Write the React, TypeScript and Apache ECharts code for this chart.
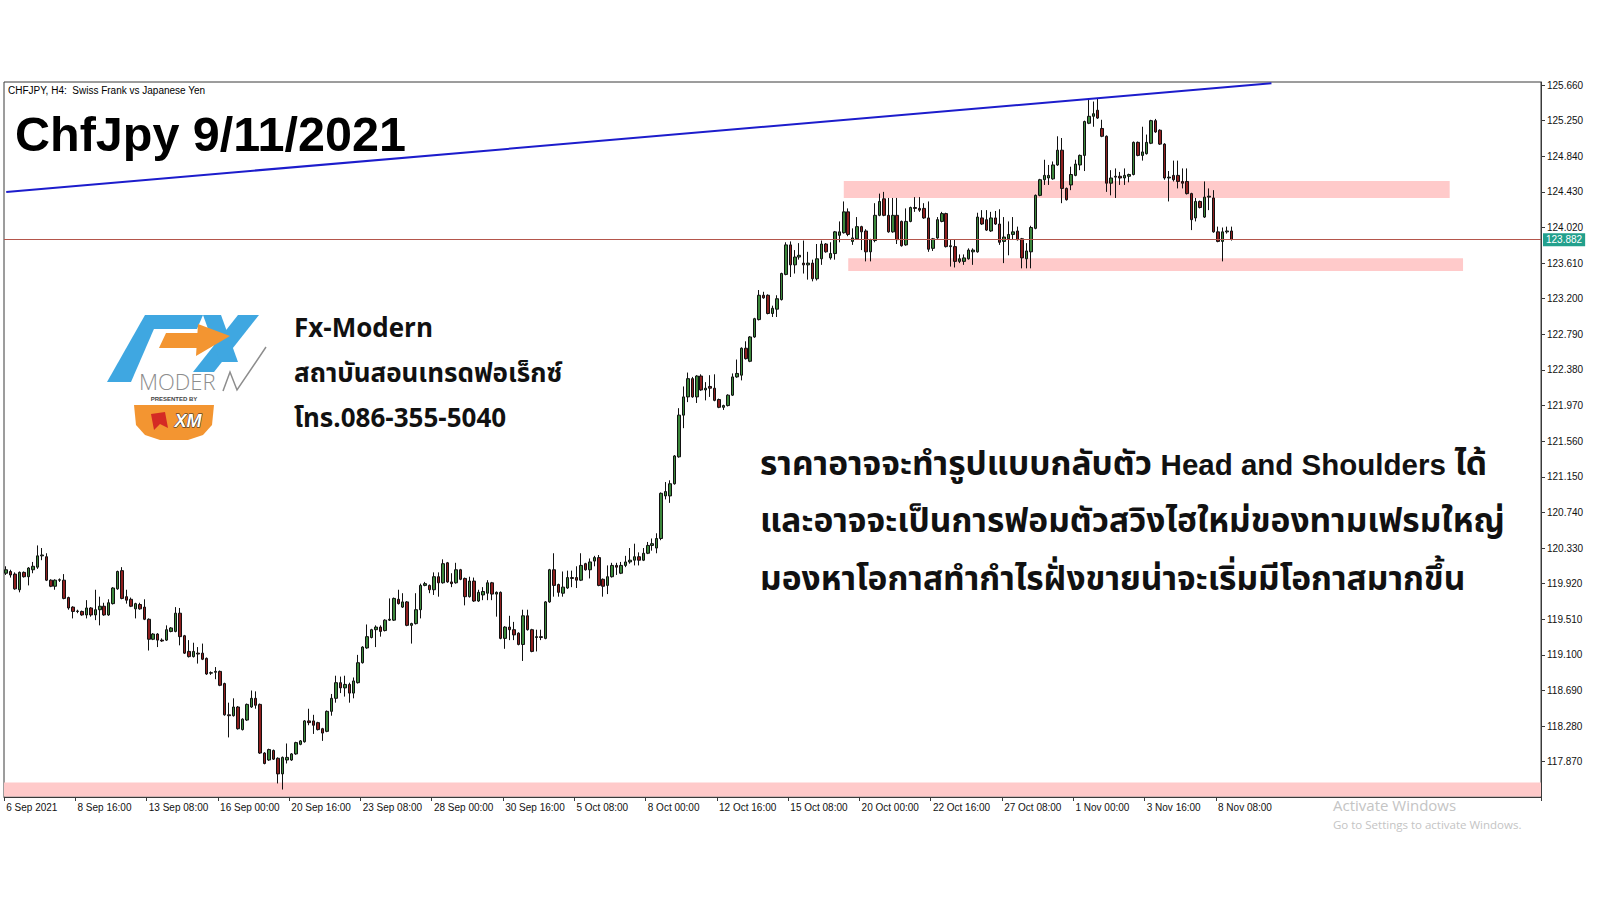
import React, { useEffect, useRef } from "react";
import * as echarts from "echarts";

// ---------- data ----------
const dateLabels = [
  "6 Sep 2021", "8 Sep 16:00", "13 Sep 08:00", "16 Sep 00:00", "20 Sep 16:00",
  "23 Sep 08:00", "28 Sep 00:00", "30 Sep 16:00", "5 Oct 08:00", "8 Oct 00:00",
  "12 Oct 16:00", "15 Oct 08:00", "20 Oct 00:00", "22 Oct 16:00", "27 Oct 08:00",
  "1 Nov 00:00", "3 Nov 16:00", "8 Nov 08:00",
];
const barsPerLabel = 16;
const totalSlots = 345;

const priceTicks = [
  117.87, 118.28, 118.69, 119.1, 119.51, 119.92, 120.33, 120.74, 121.15, 121.56,
  121.97, 122.38, 122.79, 123.2, 123.61, 124.02, 124.43, 124.84, 125.25, 125.66,
];
const priceMin = 117.464;
const priceMax = 125.695;

const opens = [
  120.04, 120.06, 120.03, 119.85, 120.05, 120.0, 120.08, 120.11, 120.24, 120.23,
  119.96, 119.89, 119.96, 119.96, 119.76, 119.65, 119.6, 119.6, 119.56, 119.64,
  119.56, 119.62, 119.66, 119.56, 119.69, 119.86, 120.07, 119.77, 119.74, 119.63,
  119.68, 119.65, 119.51, 119.28, 119.34, 119.27, 119.27, 119.37, 119.37, 119.58,
  119.32, 119.14, 119.08, 119.12, 119.12, 119.06, 118.89, 118.9, 118.91, 118.77,
  118.41, 118.4, 118.5, 118.24, 118.35, 118.5, 118.6, 118.53, 117.97, 117.89,
  118.0, 117.91, 117.73, 117.89, 117.89, 117.96, 118.07, 118.1, 118.34, 118.34,
  118.32, 118.25, 118.22, 118.45, 118.6, 118.78, 118.72, 118.76, 118.66, 118.78,
  119.01, 119.18, 119.3, 119.39, 119.42, 119.38, 119.5, 119.5, 119.74, 119.65,
  119.71, 119.44, 119.46, 119.62, 119.9, 119.9, 119.85, 120.0, 119.93, 120.16,
  119.94, 119.93, 120.08, 119.98, 119.77, 119.95, 119.72, 119.79, 119.81, 119.93,
  119.8, 119.82, 119.29, 119.42, 119.39, 119.35, 119.22, 119.55, 119.39, 119.3,
  119.31, 119.29, 119.71, 120.08, 119.91, 119.81, 119.87, 119.99, 119.99, 119.96,
  120.15, 120.08, 120.18, 120.22, 119.97, 119.9, 120.0, 120.13, 120.04, 120.13,
  120.17, 120.19, 120.23, 120.19, 120.27, 120.36, 120.33, 120.44, 120.93, 120.93,
  121.07, 121.38, 121.86, 122.07, 122.28, 122.07, 122.31, 122.15, 122.19, 122.17,
  122.04, 121.95, 121.97, 122.09, 122.3, 122.32, 122.63, 122.48, 122.76, 122.96,
  123.24, 123.24, 123.03, 123.08, 123.19, 123.48, 123.82, 123.59, 123.68, 123.61,
  123.59, 123.61, 123.43, 123.66, 123.83, 123.67, 123.72, 123.93, 123.96, 124.2,
  123.86, 123.89, 124.03, 123.98, 123.74, 123.87, 124.16, 124.35, 124.16, 123.97,
  124.16, 124.09, 123.82, 124.09, 124.25, 124.24, 124.24, 124.13, 123.78, 123.9,
  124.09, 124.18, 123.8, 123.8, 123.63, 123.63, 123.66, 123.74, 123.74, 124.13,
  124.11, 123.98, 124.13, 124.06, 123.86, 123.89, 123.94, 123.98, 123.89, 123.66,
  123.74, 124.01, 124.39, 124.57, 124.59, 124.58, 124.74, 124.91, 124.47, 124.51,
  124.62, 124.74, 124.85, 125.22, 125.3, 125.37, 125.16, 125.07, 124.53, 124.6,
  124.61, 124.59, 124.61, 124.63, 125.0, 124.85, 124.87, 124.99, 125.25, 125.14,
  124.98, 124.59, 124.62, 124.62, 124.55, 124.55, 124.41, 124.13, 124.32, 124.14,
  124.37, 124.36, 123.97, 123.86, 123.97, 123.98,
];
const closes = [
  120.08, 120.02, 119.86, 120.05, 120.0, 120.1, 120.12, 120.24, 120.25, 119.96,
  119.89, 119.96, 119.965, 119.75, 119.64, 119.6, 119.605, 119.56, 119.64, 119.56,
  119.62, 119.66, 119.56, 119.7, 119.87, 120.06, 119.75, 119.73, 119.66, 119.69,
  119.63, 119.51, 119.28, 119.34, 119.27, 119.26, 119.39, 119.41, 119.58, 119.31,
  119.12, 119.08, 119.14, 119.11, 119.05, 118.88, 118.895, 118.91, 118.75, 118.41,
  118.4, 118.5, 118.25, 118.36, 118.53, 118.6, 118.52, 117.97, 117.85, 118.01,
  117.9, 117.73, 117.92, 117.92, 117.96, 118.09, 118.11, 118.34, 118.32, 118.29,
  118.24, 118.2, 118.45, 118.6, 118.78, 118.72, 118.76, 118.66, 118.8, 119.01,
  119.19, 119.31, 119.39, 119.42, 119.37, 119.5, 119.51, 119.75, 119.69, 119.71,
  119.44, 119.46, 119.62, 119.9, 119.92, 119.85, 120.0, 119.93, 120.15, 119.94,
  119.92, 120.08, 119.97, 119.77, 119.95, 119.72, 119.82, 119.83, 119.93, 119.8,
  119.82, 119.29, 119.42, 119.39, 119.33, 119.22, 119.55, 119.39, 119.14, 119.31,
  119.3, 119.71, 120.08, 119.9, 119.82, 119.88, 119.99, 119.98, 119.96, 120.13,
  120.08, 120.17, 120.22, 119.9, 119.89, 120.0, 120.13, 120.11, 120.13, 120.17,
  120.19, 120.23, 120.19, 120.27, 120.36, 120.38, 120.44, 120.96, 120.98, 121.07,
  121.39, 121.86, 122.07, 122.28, 122.07, 122.31, 122.15, 122.17, 122.17, 122.03,
  121.95, 121.97, 122.09, 122.3, 122.34, 122.63, 122.51, 122.76, 122.97, 123.24,
  123.21, 123.03, 123.09, 123.2, 123.49, 123.82, 123.59, 123.68, 123.7, 123.59,
  123.61, 123.43, 123.66, 123.83, 123.74, 123.72, 123.97, 123.97, 124.2, 123.94,
  123.9, 124.03, 123.97, 123.74, 123.88, 124.16, 124.32, 124.16, 123.97, 124.16,
  123.88, 123.81, 124.09, 124.25, 124.24, 124.22, 124.13, 123.77, 123.89, 124.11,
  124.18, 123.8, 123.81, 123.63, 123.66, 123.67, 123.76, 123.76, 124.14, 124.06,
  123.99, 124.13, 124.06, 123.85, 123.91, 123.94, 123.97, 123.88, 123.67, 123.75,
  124.02, 124.39, 124.57, 124.62, 124.62, 124.74, 124.91, 124.47, 124.34, 124.63,
  124.75, 124.85, 125.24, 125.3, 125.33, 125.28, 125.07, 124.53, 124.59, 124.61,
  124.59, 124.62, 124.63, 125.0, 124.85, 124.89, 125.0, 125.25, 125.12, 124.98,
  124.59, 124.6, 124.57, 124.55, 124.53, 124.41, 124.11, 124.32, 124.25, 124.37,
  124.38, 123.97, 123.86, 123.97, 123.98, 123.882,
];
const lows = [
  120.02, 119.99, 119.85, 119.82, 119.99, 119.9, 120.04, 120.09, 120.19, 119.95,
  119.88, 119.85, 119.94, 119.74, 119.62, 119.52, 119.58, 119.55, 119.52, 119.54,
  119.5, 119.44, 119.55, 119.55, 119.68, 119.85, 119.74, 119.69, 119.65, 119.52,
  119.62, 119.5, 119.15, 119.27, 119.19, 119.25, 119.26, 119.36, 119.36, 119.21,
  119.11, 119.07, 119.07, 119.0, 119.04, 118.87, 118.87, 118.82, 118.74, 118.4,
  118.15, 118.39, 118.24, 118.23, 118.34, 118.49, 118.48, 117.96, 117.84, 117.88,
  117.89, 117.62, 117.55, 117.85, 117.88, 117.95, 118.06, 118.09, 118.29, 118.19,
  118.23, 118.11, 118.21, 118.4, 118.55, 118.66, 118.62, 118.55, 118.6, 118.77,
  119.0, 119.17, 119.29, 119.19, 119.31, 119.37, 119.49, 119.49, 119.68, 119.64,
  119.43, 119.23, 119.45, 119.52, 119.89, 119.81, 119.79, 119.77, 119.92, 119.93,
  119.88, 119.92, 119.96, 119.67, 119.76, 119.71, 119.71, 119.73, 119.73, 119.73,
  119.54, 119.28, 119.17, 119.27, 119.27, 119.21, 119.03, 119.38, 119.13, 119.14,
  119.27, 119.28, 119.7, 119.77, 119.77, 119.77, 119.86, 119.88, 119.87, 119.95,
  120.07, 119.98, 120.12, 119.89, 119.77, 119.8, 119.99, 120.02, 120.03, 120.11,
  120.15, 120.13, 120.13, 120.18, 120.26, 120.3, 120.27, 120.42, 120.89, 120.85,
  121.06, 121.37, 121.71, 122.01, 122.06, 122.0, 122.14, 122.03, 122.07, 122.02,
  121.94, 121.92, 121.96, 122.08, 122.29, 122.26, 122.5, 122.47, 122.75, 122.95,
  123.2, 123.02, 122.99, 122.99, 123.18, 123.47, 123.45, 123.49, 123.65, 123.49,
  123.42, 123.4, 123.41, 123.59, 123.73, 123.65, 123.65, 123.85, 123.95, 123.92,
  123.82, 123.88, 123.76, 123.63, 123.63, 123.85, 124.15, 124.15, 123.96, 123.96,
  123.83, 123.8, 123.81, 124.08, 124.2, 124.2, 124.12, 123.74, 123.75, 123.89,
  124.08, 123.79, 123.57, 123.56, 123.61, 123.59, 123.65, 123.59, 123.73, 124.05,
  123.98, 123.97, 124.05, 123.82, 123.61, 123.7, 123.88, 123.87, 123.55, 123.55,
  123.55, 124.0, 124.38, 124.51, 124.51, 124.57, 124.73, 124.3, 124.33, 124.45,
  124.61, 124.68, 124.67, 125.21, 125.18, 125.27, 125.06, 124.43, 124.39, 124.36,
  124.51, 124.51, 124.54, 124.62, 124.84, 124.79, 124.86, 124.98, 125.11, 124.97,
  124.57, 124.32, 124.55, 124.47, 124.47, 124.4, 123.99, 124.09, 124.24, 124.13,
  124.22, 123.96, 123.85, 123.63, 123.95, 123.87,
];
const highs = [
  120.12, 120.08, 120.05, 120.06, 120.06, 120.11, 120.17, 120.36, 120.33, 120.27,
  119.97, 119.97, 119.98, 120.03, 119.77, 119.66, 119.62, 119.61, 119.73, 119.65,
  119.85, 119.77, 119.7, 119.74, 119.88, 120.07, 120.11, 119.85, 119.76, 119.7,
  119.7, 119.74, 119.52, 119.35, 119.35, 119.29, 119.44, 119.42, 119.65, 119.64,
  119.33, 119.27, 119.24, 119.19, 119.23, 119.07, 118.91, 118.96, 118.92, 118.78,
  118.55, 118.6, 118.51, 118.37, 118.54, 118.69, 118.68, 118.54, 117.98, 118.02,
  118.01, 117.92, 117.93, 118.08, 117.97, 118.1, 118.12, 118.35, 118.48, 118.41,
  118.33, 118.26, 118.46, 118.65, 118.86, 118.85, 118.86, 118.78, 118.84, 119.1,
  119.2, 119.45, 119.4, 119.44, 119.44, 119.51, 119.75, 119.76, 119.85, 119.81,
  119.72, 119.47, 119.81, 119.92, 119.94, 119.91, 120.05, 120.05, 120.2, 120.17,
  120.04, 120.16, 120.09, 119.99, 120.0, 119.99, 119.85, 119.88, 119.96, 119.94,
  119.83, 119.83, 119.43, 119.55, 119.48, 119.36, 119.62, 119.62, 119.4, 119.39,
  119.39, 119.72, 120.09, 120.27, 119.92, 120.06, 120.07, 120.07, 120.12, 120.27,
  120.16, 120.21, 120.24, 120.25, 119.98, 120.13, 120.16, 120.16, 120.17, 120.24,
  120.33, 120.38, 120.28, 120.33, 120.4, 120.44, 120.5, 120.97, 121.09, 121.11,
  121.4, 121.94, 122.19, 122.35, 122.3, 122.32, 122.33, 122.24, 122.32, 122.33,
  122.05, 121.98, 122.1, 122.34, 122.5, 122.64, 122.71, 122.77, 122.98, 123.3,
  123.28, 123.25, 123.12, 123.24, 123.5, 123.85, 123.86, 123.76, 123.84, 123.87,
  123.74, 123.65, 123.83, 123.87, 123.84, 123.85, 123.98, 124.09, 124.32, 124.24,
  124.01, 124.14, 124.04, 124.0, 123.89, 124.3, 124.41, 124.43, 124.36, 124.36,
  124.36, 124.1, 124.24, 124.26, 124.37, 124.37, 124.3, 124.32, 123.9, 124.14,
  124.2, 124.19, 123.88, 123.88, 123.71, 123.71, 123.78, 123.78, 124.19, 124.22,
  124.22, 124.2, 124.21, 124.23, 124.14, 124.09, 124.14, 124.03, 123.9, 123.84,
  124.04, 124.4, 124.58, 124.8, 124.74, 124.78, 125.07, 125.05, 124.48, 124.72,
  124.8, 124.86, 125.25, 125.51, 125.47, 125.51, 125.26, 125.08, 124.68, 124.7,
  124.66, 124.7, 124.64, 125.01, 125.01, 125.18, 125.09, 125.26, 125.27, 125.15,
  124.99, 124.67, 124.79, 124.79, 124.7, 124.7, 124.42, 124.36, 124.33, 124.55,
  124.47, 124.45, 124.03, 124.02, 124.03, 124.03,
];

const currentPrice = 123.882;
const trendLine = [
  [0, 124.43],
  [284, 125.68],
];
// zones: [fromBar, toBar, low, high]
const resistanceZone = [188, 324, 124.36, 124.555];
const supportZone = [189, 327, 123.52, 123.665];
const bottomZone = [117.47, 117.63];

const headerText = "CHFJPY, H4:  Swiss Frank vs Japanese Yen";
const titleText = "ChfJpy 9/11/2021";
const brandLines = ["Fx-Modern", "สถาบันสอนเทรดฟอเร็กซ์", "โทร.086-355-5040"];
const noteLine1 = ["ราคาอาจจะทำรูปแบบกลับตัว ", "Head and Shoulders", " ได้"];
const noteLine2 = "และอาจจะเป็นการฟอมตัวสวิงไฮใหม่ของทามเฟรมใหญ่";
const noteLine3 = "มองหาโอกาสทำกำไรฝั่งขายน่าจะเริ่มมีโอกาสมากขึ้น";

const THAI_FONT = "'Noto Sans Thai','Noto Sans Thai UI','Tahoma','Liberation Sans','DejaVu Sans',sans-serif";
const LATIN_FONT = "'Liberation Sans', Arial, sans-serif";

export default function App() {
  const ref = useRef<HTMLDivElement>(null);

  useEffect(() => {
    if (!ref.current) return;
    const chart = echarts.init(ref.current, undefined, { renderer: "svg" });
    const categories = Array.from({ length: totalSlots }, (_, i) => String(i));
    const candleData = opens.map((o, i) => [o, closes[i], lows[i], highs[i]]);
    const isLabelSlot = (i: number) =>
      i % barsPerLabel === 0 && i / barsPerLabel < dateLabels.length;

    const blue = "#3fa7e1";
    const orange = "#f39531";

    const option: any = {
      animation: false,
      backgroundColor: "#ffffff",
      grid: {
        left: 4,
        right: 59,
        top: 82,
        bottom: 103,
        show: true,
        borderColor: "#3a3a3a",
        borderWidth: 1,
      },
      xAxis: {
        type: "category",
        data: categories,
        boundaryGap: true,
        axisLine: { show: true, lineStyle: { color: "#3a3a3a", width: 1 } },
        axisTick: {
          show: true,
          length: 4,
          interval: (i: number) => isLabelSlot(i),
          lineStyle: { color: "#3a3a3a" },
        },
        axisLabel: {
          interval: (i: number) => isLabelSlot(i),
          formatter: (_v: string, i: number) => dateLabels[i / barsPerLabel] ?? "",
          align: "left",
          margin: 5,
          fontSize: 10,
          fontFamily: LATIN_FONT,
          color: "#111",
        },
        splitLine: { show: false },
      },
      yAxis: {
        type: "value",
        position: "right",
        min: priceMin,
        max: priceMax,
        axisLine: { show: true, lineStyle: { color: "#3a3a3a", width: 1 } },
        axisTick: { show: true, length: 4, customValues: priceTicks, lineStyle: { color: "#3a3a3a" } },
        axisLabel: {
          customValues: priceTicks,
          formatter: (v: number) => v.toFixed(3),
          margin: 6,
          fontSize: 10,
          fontFamily: LATIN_FONT,
          color: "#111",
        },
        splitLine: { show: false },
      },
      series: [
        {
          type: "line",
          name: "zones",
          data: [],
          z: 1,
          silent: true,
          markArea: {
            silent: true,
            itemStyle: { color: "#ffcaca", borderWidth: 0 },
            data: [
              [
                { xAxis: resistanceZone[0], yAxis: resistanceZone[3] },
                { xAxis: resistanceZone[1], yAxis: resistanceZone[2] },
              ],
              [
                { xAxis: supportZone[0], yAxis: supportZone[3] },
                { xAxis: supportZone[1], yAxis: supportZone[2] },
              ],
              [{ yAxis: bottomZone[1] }, { yAxis: bottomZone[0] }],
            ],
          },
        },
        {
          type: "candlestick",
          name: "CHFJPY",
          data: candleData,
          z: 3,
          barWidth: 3,
          itemStyle: {
            color: "#3b873b",
            color0: "#8e1e1e",
            borderColor: "#111",
            borderColor0: "#111",
            borderWidth: 1,
          },
          markLine: {
            silent: true,
            symbol: ["none", "none"],
            lineStyle: { color: "#b4564c", width: 1, type: "solid" },
            label: {
              show: true,
              position: "end",
              formatter: currentPrice.toFixed(3),
              color: "#ffffff",
              backgroundColor: "#22a08c",
              padding: [2, 3, 1, 3],
              fontSize: 10,
              fontFamily: LATIN_FONT,
              distance: 2,
            },
            data: [{ yAxis: currentPrice }],
          },
        },
        {
          type: "line",
          name: "trend",
          data: trendLine,
          z: 4,
          symbol: "none",
          clip: true,
          silent: true,
          lineStyle: { color: "#1c1ccc", width: 2 },
        },
      ],
      graphic: [
        {
          type: "text",
          x: 8,
          y: 90,
          style: {
            text: headerText,
            font: `10px ${LATIN_FONT}`,
            fill: "#000",
            verticalAlign: "middle",
          },
        },
        {
          type: "text",
          x: 15,
          y: 134,
          style: {
            text: titleText,
            font: `bold 48.5px ${LATIN_FONT}`,
            fill: "#000",
            verticalAlign: "middle",
          },
        },
        // logo: FX mark
        {
          type: "polygon",
          shape: { points: [[145, 315], [160, 315], [131, 382], [107, 382]] },
          style: { fill: blue },
        },
        {
          type: "polygon",
          shape: { points: [[150, 315], [203, 315], [197, 329], [144, 329]] },
          style: { fill: blue },
        },
        {
          type: "polygon",
          shape: { points: [[238, 315], [259, 315], [214, 372], [193, 372]] },
          style: { fill: blue },
        },
        {
          type: "polygon",
          shape: { points: [[203, 315], [221, 315], [238, 362], [220, 362]] },
          style: { fill: blue },
        },
        {
          type: "polygon",
          shape: { points: [[166, 333], [203, 333], [199, 348], [159, 348]] },
          style: { fill: orange },
        },
        {
          type: "polygon",
          shape: { points: [[198, 324], [230, 336], [196, 356]] },
          style: { fill: orange },
        },
        {
          type: "text",
          x: 139,
          y: 381,
          style: {
            text: "MODER",
            font: "300 22px 'Open Sans', 'Liberation Sans', sans-serif",
            fill: "#8d8d8d",
            verticalAlign: "middle",
          },
        },
        {
          type: "polyline",
          shape: { points: [[223, 391], [230, 372], [237, 390], [266, 347]] },
          style: { stroke: "#8d8d8d", lineWidth: 1.5, fill: "none" },
        },
        {
          type: "text",
          x: 174,
          y: 399,
          style: {
            text: "PRESENTED BY",
            font: `bold 6px ${LATIN_FONT}`,
            fill: "#444",
            align: "center",
            verticalAlign: "middle",
          },
        },
        {
          type: "polygon",
          shape: {
            points: [
              [134, 405], [214, 405], [212, 425], [203, 435], [188, 440],
              [160, 440], [145, 435], [136, 425],
            ],
          },
          style: { fill: orange },
        },
        {
          type: "polygon",
          shape: { points: [[151, 414], [165, 412], [168, 428], [160, 424], [154, 430]] },
          style: { fill: "#d42a24" },
        },
        {
          type: "text",
          x: 188,
          y: 421,
          style: {
            text: "XM",
            font: `italic bold 18px ${LATIN_FONT}`,
            fill: "#ffffff",
            stroke: "#222",
            lineWidth: 1,
            align: "center",
            verticalAlign: "middle",
          },
        },
        // brand lines
        ...brandLines.map((t, i) => ({
          type: "text",
          x: 294,
          y: 329 + i * 45,
          style: {
            text: t,
            font: `bold 26px ${THAI_FONT}`,
            fill: "#111",
            verticalAlign: "middle",
          },
        })),
        // note lines
        {
          type: "text",
          x: 760,
          y: 464,
          style: {
            text: `{th|${noteLine1[0]}}{en|${noteLine1[1]}}{th|${noteLine1[2]}}`,
            verticalAlign: "middle",
            rich: {
              th: { font: `bold 33.5px ${THAI_FONT}`, fill: "#111" },
              en: { font: `bold 29.5px ${LATIN_FONT}`, fill: "#111" },
            },
          },
        },
        {
          type: "text",
          x: 760,
          y: 521,
          style: {
            text: noteLine2,
            font: `bold 33.5px ${THAI_FONT}`,
            fill: "#111",
            verticalAlign: "middle",
          },
        },
        {
          type: "text",
          x: 760,
          y: 579,
          style: {
            text: noteLine3,
            font: `bold 33.5px ${THAI_FONT}`,
            fill: "#111",
            verticalAlign: "middle",
          },
        },
        {
          type: "text",
          x: 1333,
          y: 805,
          style: {
            text: "Activate Windows",
            font: "15px 'Open Sans', 'Noto Sans', sans-serif",
            fill: "#c4c4c4",
            verticalAlign: "middle",
          },
        },
        {
          type: "text",
          x: 1333,
          y: 824,
          style: {
            text: "Go to Settings to activate Windows.",
            font: "11.5px 'Open Sans', 'Noto Sans', sans-serif",
            fill: "#c4c4c4",
            verticalAlign: "middle",
          },
        },
      ],
    };

    chart.setOption(option);
    return () => chart.dispose();
  }, []);

  return (
    <div
      ref={ref}
      style={{ position: "fixed", left: 0, top: 0, width: 1600, height: 900, background: "#fff" }}
    />
  );
}
